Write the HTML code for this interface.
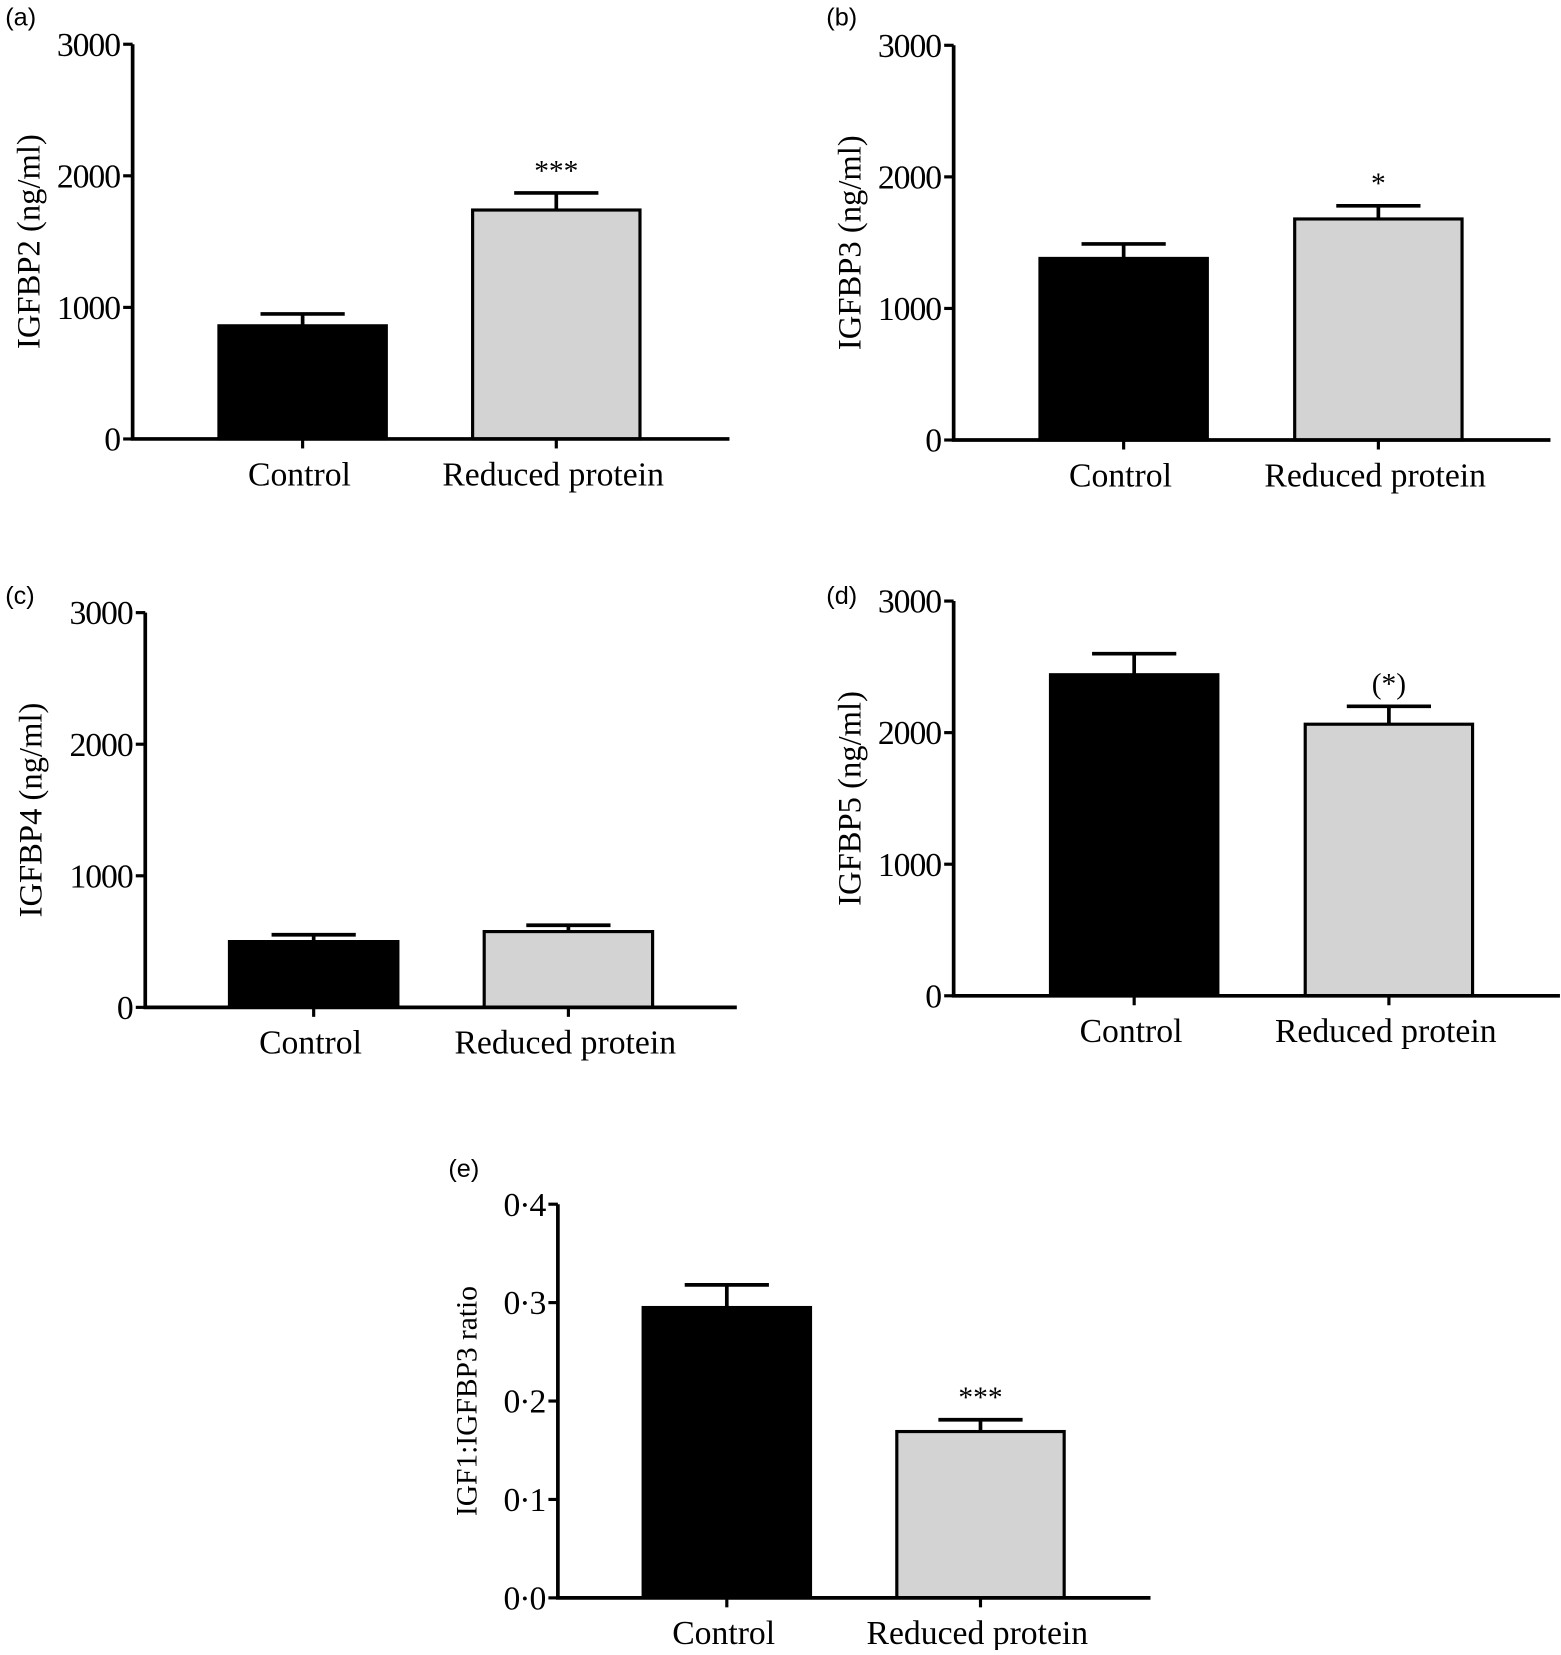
<!DOCTYPE html>
<html><head><meta charset="utf-8"><style>
html,body{margin:0;padding:0;background:#fff}
svg text{font-family:"Liberation Serif",serif;fill:#000}
</style></head><body>
<svg id="chart" width="1561" height="1650" viewBox="0 0 1483 1567.5" xmlns="http://www.w3.org/2000/svg"></svg>
<script>
const categories = ["Control", "Reduced protein"];
const panelLetters = ["(a)", "(b)", "(c)", "(d)", "(e)"];
const yTitles = ["IGFBP2 (ng/ml)", "IGFBP3 (ng/ml)", "IGFBP4 (ng/ml)", "IGFBP5 (ng/ml)", "IGF1:IGFBP3 ratio"];
const meansA = [860, 1740], errA = [950, 1870];
const meansB = [1380, 1680], errB = [1490, 1780];
const meansC = [500, 576], errC = [552, 624];
const meansD = [2440, 2064], errD = [2600, 2200];
const meansE = [0.295, 0.169], errE = [0.318, 0.181];
const sigLabels = [["", "***"], ["", "*"], ["", ""], ["", "(*)"], ["", "***"]];
const tickValsBP = [0, 1000, 2000, 3000];
const tickLabelsBP = ["0", "1000", "2000", "3000"];
const tickValsE = [0, 0.1, 0.2, 0.3, 0.4];
const tickLabelsE = ["0·0", "0·1", "0·2", "0·3", "0·4"];

const svg = document.getElementById('chart');
const NS = 'http://www.w3.org/2000/svg';
function mk(tag, attrs, parent) {
  const e = document.createElementNS(NS, tag);
  for (const k in attrs) e.setAttribute(k, attrs[k]);
  parent.appendChild(e);
  return e;
}
const layouts = [
  {ax:126, top:42, bot:417, xEnd:693, b0:208, gap:241, bw:159, tx:28, lx:5, ly:24, max:3000},
  {ax:906, top:43, bot:418, xEnd:1473, b0:988, gap:242, bw:159, tx:808, lx:785, ly:24, max:3000},
  {ax:138, top:582, bot:957, xEnd:700, b0:218, gap:242, bw:160, tx:30, lx:5, ly:574, max:3000},
  {ax:906, top:571, bot:946, xEnd:1482, b0:998, gap:242, bw:159, tx:808, lx:785, ly:574, max:3000},
  {ax:530, top:1144, bot:1518, xEnd:1093, b0:611, gap:241, bw:159, tx:444, lx:426, ly:1118, max:0.4}
];
const means = [meansA, meansB, meansC, meansD, meansE];
const errs = [errA, errB, errC, errD, errE];

layouts.forEach((L, p) => {
  const g = mk('g', {}, svg);
  
  
  const y = v => L.bot - v / L.max * (L.bot - L.top);
  const t = mk('text', {x:L.lx, y:L.ly, 'font-size':24, style:'font-family:"Liberation Sans",sans-serif'}, g);
  t.textContent = panelLetters[p];
  
  
  const mid = (L.top + L.bot) / 2;
  const yt = mk('text', {x:L.tx, y:mid, 'font-size':p===4?28:31, 'text-anchor':'middle', transform:`rotate(-90 ${L.tx} ${mid})`, 'dominant-baseline':'central'}, g);
  yt.textContent = yTitles[p];
  
  
  const vals = means[p], ev = errs[p];
  vals.forEach((v, i) => {
    const x0 = L.b0 + i * L.gap, cx = x0 + L.bw / 2;
    const e = ev[i];
    const el = mk('path', {d:`M${cx} ${y(v)}V${y(e)}M${cx-40} ${y(e)}H${cx+40}`, stroke:'#000', 'stroke-width':3.5, fill:'none'}, g);
    
    
    const r = mk('rect', {x:x0, y:y(v), width:L.bw, height:L.bot - y(v), fill:i===0?'#000':'#d3d3d3', stroke:'#000', 'stroke-width':3}, g);
    
    
    if (sigLabels[p][i]) {
      const s = mk('text', {x:cx, y:y(e) - 12, 'font-size':28, 'text-anchor':'middle'}, g);
      s.textContent = sigLabels[p][i];
      
      
    }
    mk('line', {x1:cx, x2:cx, y1:L.bot, y2:L.bot + 9, stroke:'#000', 'stroke-width':3}, g);
    const c = mk('text', {x:cx - 3, y:L.bot + 44, 'font-size':32, 'text-anchor':'middle'}, g);
    c.textContent = categories[i];
    
    
  });
  const ax = mk('path', {d:`M${L.ax} ${L.top}V${L.bot}H${L.xEnd}`, stroke:'#000', 'stroke-width':3.5, fill:'none'}, g);
  
  
  const tv = p===4 ? tickValsE : tickValsBP, tl = p===4 ? tickLabelsE : tickLabelsBP;
  tv.forEach((v, i) => {
    mk('line', {x1:L.ax - 9, x2:L.ax, y1:y(v), y2:y(v), stroke:'#000', 'stroke-width':3}, g);
    const lt = mk('text', {x:L.ax - 12, y:y(v) + 11, 'font-size':32, 'text-anchor':'end', 'letter-spacing':-1}, g);
    lt.textContent = tl[i];
    
    
  });
});
</script>
</body></html>
